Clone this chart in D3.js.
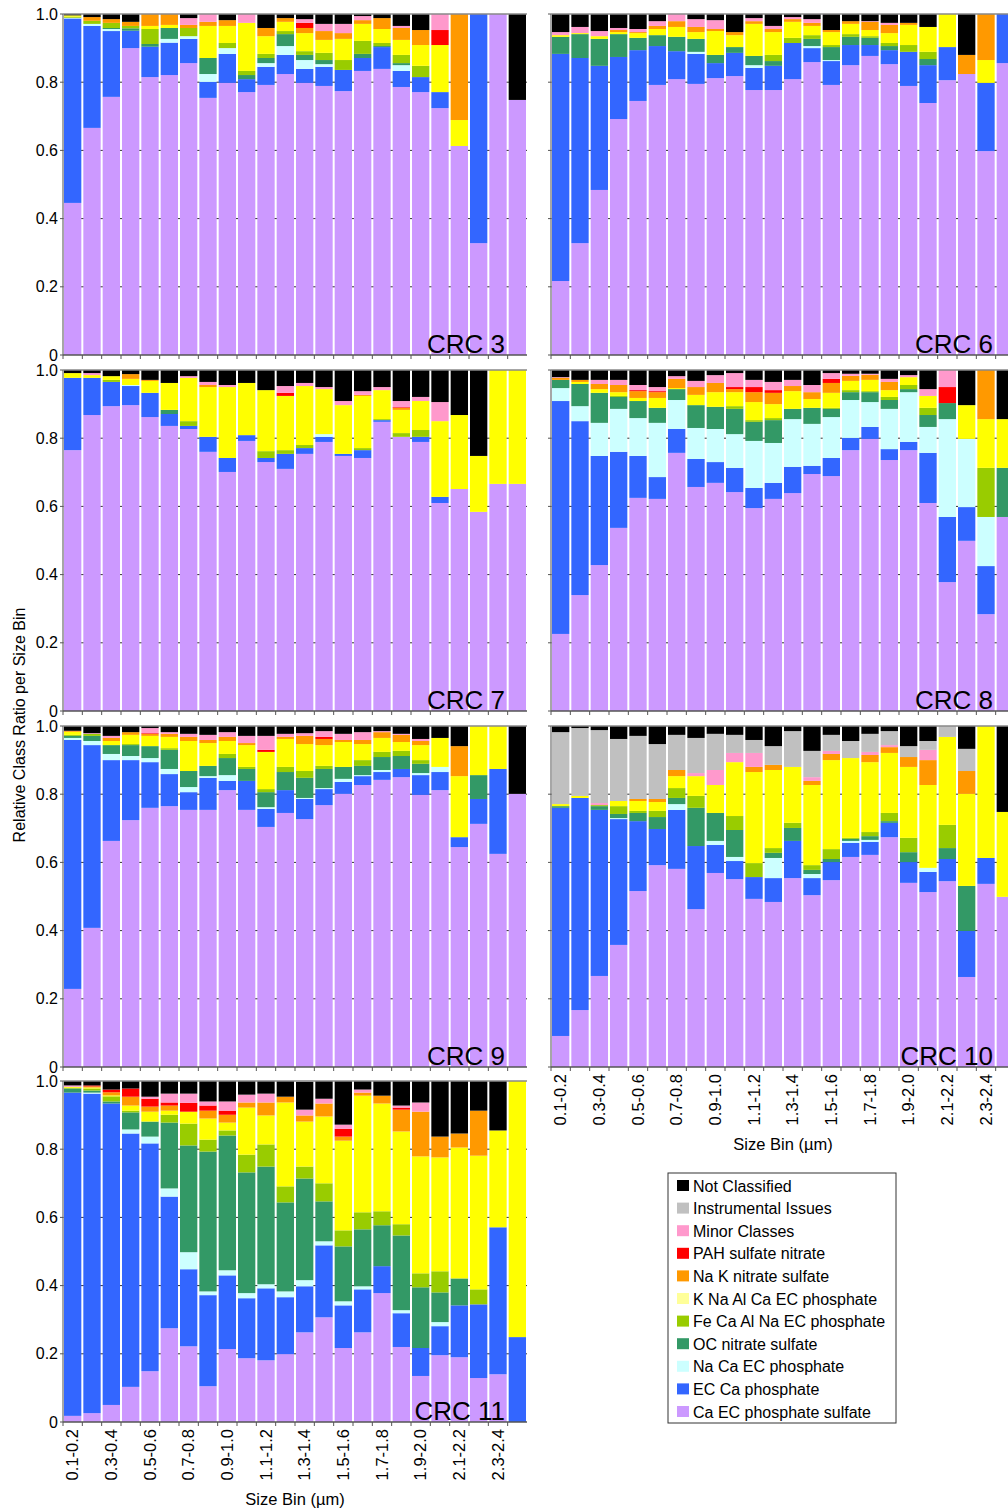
<!DOCTYPE html>
<meta charset="utf-8">
<style>
  body { margin: 0; background: #fff; }
  svg { display: block; }
</style>
<body>
<script src="https://d3js.org/d3.v7.min.js"></script>
<script>
// size bins (µm), one bar per bin
var sizeBins = ["0.1-0.2","0.2-0.3","0.3-0.4","0.4-0.5","0.5-0.6","0.6-0.7","0.7-0.8","0.8-0.9",
  "0.9-1.0","1.0-1.1","1.1-1.2","1.2-1.3","1.3-1.4","1.4-1.5","1.5-1.6","1.6-1.7",
  "1.7-1.8","1.8-1.9","1.9-2.0","2.0-2.1","2.1-2.2","2.2-2.3","2.3-2.4","2.4-2.5"];

// particle classes, stacked bottom -> top
var classNames = ["Ca EC phosphate sulfate","EC Ca phosphate","Na Ca EC phosphate","OC nitrate sulfate",
  "Fe Ca Al Na EC phosphate","K Na Al Ca EC phosphate","Na K nitrate sulfate","PAH sulfate nitrate",
  "Minor Classes","Instrumental Issues","Not Classified"];
var classColors = ["#cc99ff","#3366ff","#ccffff","#339966","#99cc00","#ffff00","#ff9900","#ff0000",
  "#ff99cc","#c0c0c0","#000000"];
var legendColors = ["#cc99ff","#3366ff","#ccffff","#339966","#99cc00","#ffff99","#ff9900","#ff0000",
  "#ff99cc","#c0c0c0","#000000"];

var yTicks = [0, 0.2, 0.4, 0.6, 0.8, 1.0];
var yTickLabels = ["0","0.2","0.4","0.6","0.8","1.0"];

// one row per size bin, values in classNames order
var crc3 = [
  [.446,.541,.002,0,.003,.004,0,0,0,0,.004],
  [.666,.299,.006,0,.009,0,.011,0,0,0,.009],
  [.757,.193,.006,.003,.015,0,.011,0,0,0,.015],
  [.900,.051,0,.007,.007,0,.012,0,0,0,.023],
  [.815,.089,0,.008,.044,.009,.035,0,0,0,0],
  [.821,.095,.011,.032,0,.009,.032,0,0,0,0],
  [.856,.071,.008,0,.024,0,.009,0,.020,0,.012],
  [.754,.047,.023,.047,0,.094,.012,0,.023,0,0],
  [.798,.085,.017,0,.015,.050,.017,0,0,0,.018],
  [.771,.038,0,.012,.012,.141,0,0,.026,0,0],
  [.792,.053,.011,.015,.012,.052,.024,0,0,0,.041],
  [.824,.056,.026,.035,.009,.027,.011,0,0,0,.012],
  [.798,.041,.026,.015,.011,.053,.015,.015,.011,0,.015],
  [.789,.056,.008,.012,.021,.038,.026,0,.021,0,.029],
  [.774,.062,0,0,.029,.062,.017,0,.027,0,.029],
  [.833,.038,0,.012,.038,.050,.011,0,.012,0,.006],
  [.839,.064,0,.003,.009,.041,.032,0,0,0,.012],
  [.786,.047,.017,.006,.024,.044,.035,0,.006,0,.035],
  [.771,.044,0,0,.033,.061,.044,0,0,0,.047],
  [.724,.047,0,0,0,.138,0,.044,.047,0,0],
  [.613,0,0,0,0,.076,.311,0,0,0,0],
  [.328,.672,0,0,0,0,0,0,0,0,0],
  [1,0,0,0,0,0,0,0,0,0,0],
  [.748,0,0,0,0,0,0,0,0,0,.252]
];
var crc6 = [
  [.217,.666,0,.050,0,.005,0,0,.009,0,.053],
  [.328,.543,0,.070,0,.003,0,0,.018,0,.038],
  [.484,.364,0,.079,0,.008,0,0,.015,0,.050],
  [.692,.182,0,.067,0,.006,.006,0,.006,0,.041],
  [.745,.149,0,.036,0,.014,.003,0,.009,0,.044],
  [.792,.114,0,.032,0,.018,.009,0,.014,0,.021],
  [.809,.082,0,.042,0,.029,.017,0,.021,0,0],
  [.795,.088,.006,.038,0,.020,.015,0,.023,0,.015],
  [.812,.044,0,.024,0,.070,.006,0,.026,0,.018],
  [.818,.068,0,.017,0,.035,.009,0,0,0,.053],
  [.777,.065,.008,.027,0,.094,.008,0,.009,0,.012],
  [.777,.071,0,.014,.018,.067,.009,0,.009,0,.035],
  [.809,.106,0,0,.015,.047,.008,0,.006,0,.009],
  [.859,.041,.006,.021,.011,.027,.009,0,.011,0,.015],
  [.792,.070,.003,.038,.006,.038,.006,0,0,0,.047],
  [.850,.059,0,.024,.008,.030,.008,0,0,0,.021],
  [.877,.032,0,.021,.005,.018,.024,0,.002,0,.021],
  [.853,.041,0,.012,.009,.029,.024,0,.006,0,.026],
  [.789,.100,0,0,.020,.059,.006,0,0,0,.026],
  [.739,.111,0,.018,.021,.073,0,0,0,0,.038],
  [.806,.097,0,0,0,.097,0,0,0,0,0],
  [.824,0,0,0,0,0,.056,0,0,0,.120],
  [.598,.200,0,0,0,.067,.135,0,0,0,0],
  [.856,.144,0,0,0,0,0,0,0,0,0]
];
var crc7 = [
  [.765,.212,0,0,0,.014,0,0,0,0,.009],
  [.868,.109,0,0,0,.008,0,0,.006,0,.009],
  [.894,.071,0,0,.006,.011,0,0,0,0,.018],
  [.897,.056,.003,0,0,.018,.014,0,0,0,.012],
  [.862,.071,0,0,0,.035,.003,0,0,0,.029],
  [.836,.035,0,.012,0,.079,0,0,0,0,.038],
  [.827,.009,0,0,.014,.127,0,0,.005,0,.018],
  [.760,.044,0,0,0,.146,.006,0,.009,0,.035],
  [.701,.041,0,0,0,.208,0,0,.006,0,.044],
  [.792,.017,0,0,0,.153,0,0,0,0,.038],
  [.730,.012,0,0,.020,.179,0,0,0,0,.059],
  [.710,.044,0,0,.011,.159,0,.009,.020,0,.047],
  [.754,.017,0,0,.009,.173,0,0,.009,0,.038],
  [.789,.015,.008,0,0,.132,0,0,.006,0,.050],
  [.748,.006,0,0,0,.143,0,0,.012,0,.091],
  [.742,.023,0,0,.006,.153,.003,0,.011,0,.062],
  [.848,.005,0,0,.003,.085,0,0,.009,0,.050],
  [.804,0,0,0,.011,.068,.006,.002,.018,0,.091],
  [.789,.015,0,0,.020,.085,0,0,.012,0,.079],
  [.610,.018,0,0,0,.222,0,0,.056,0,.094],
  [.651,0,0,0,0,.217,0,0,0,0,.132],
  [.584,0,0,0,0,.164,0,0,0,0,.252],
  [.666,0,0,0,0,.334,0,0,0,0,0],
  [.666,0,0,0,0,.334,0,0,0,0,0]
];
var crc8 = [
  [.226,.683,.038,.024,0,0,.006,0,.002,0,.021],
  [.340,.510,.044,.065,0,.006,.006,0,0,0,.029],
  [.428,.320,.097,.088,0,.011,.015,0,.012,0,.029],
  [.537,.223,.126,.035,.003,.011,.021,0,.015,0,.029],
  [.625,.123,.111,.050,0,.009,.020,.003,.015,0,.044],
  [.622,.064,.159,.044,0,.029,.017,.003,.012,0,.050],
  [.757,.070,.085,.032,0,.003,.027,0,.008,0,.018],
  [.657,.082,.091,.067,0,.030,.023,0,.018,0,.032],
  [.669,.061,.097,.065,0,.043,.027,0,.023,0,.015],
  [.642,.071,.099,.074,.008,.041,.009,.006,.041,0,.009],
  [.595,.059,.138,.056,.005,.053,.029,.015,.021,0,.029],
  [.622,.047,.117,.067,.006,.041,.033,.008,.024,0,.035],
  [.639,.077,.140,.030,0,.052,.015,0,.018,0,.029],
  [.695,.024,.123,.047,0,.026,.020,0,.021,0,.044],
  [.689,.053,.120,.024,.003,.044,.029,.012,.017,0,.009],
  [.765,.036,.111,.023,.006,.027,.015,0,.006,0,.012],
  [.798,.035,.073,.029,.003,.033,.015,0,.003,0,.012],
  [.736,.032,.118,.026,.009,.020,.024,0,.009,0,.026],
  [.765,.024,.146,.009,.012,.023,0,0,.006,0,.015],
  [.610,.147,.076,.035,.021,.035,0,0,.020,0,.056],
  [.378,.191,.287,.047,0,0,0,.047,.050,0,0],
  [.499,.099,.200,0,0,.099,0,0,0,0,.103],
  [.284,.141,.144,0,.144,.143,.144,0,0,0,0],
  [.569,0,0,.144,0,.143,0,0,0,0,.144]
];
var crc9 = [
  [.229,.730,.006,.006,.003,.009,.003,0,0,0,.014],
  [.408,.536,.012,.015,.006,0,0,0,.002,0,.021],
  [.663,.237,.018,.026,0,.012,.009,0,.006,0,.029],
  [.724,.176,.012,.032,.003,.027,.008,0,0,0,.018],
  [.760,.134,.012,.035,0,.030,.006,.002,.015,0,.006],
  [.765,.094,.015,.056,.005,.033,.009,0,.005,0,.018],
  [.754,.052,.015,.047,0,.088,.012,0,.009,0,.023],
  [.754,.094,.005,.030,0,.067,.009,0,.015,0,.026],
  [.812,.027,.017,.050,.012,.038,.012,0,.014,0,.018],
  [.754,.085,0,.035,.006,.064,.006,0,.021,0,.029],
  [.704,.053,.005,.044,.009,.109,0,.006,.041,0,.029],
  [.745,.067,0,.053,.015,.082,.006,0,.009,0,.023],
  [.727,.059,.003,.059,.020,.079,.024,0,.008,0,.021],
  [.768,.047,.003,.056,.009,.061,.018,.006,.017,0,.015],
  [.801,.035,.009,.035,0,.073,.006,0,.018,0,.023],
  [.827,.026,.003,.027,.017,.047,.012,0,.023,0,.018],
  [.842,.023,.006,.038,.015,.041,.017,0,.003,0,.015],
  [.850,.024,0,.038,.015,.026,.021,0,.003,0,.023],
  [.798,.058,.006,.027,.011,.044,.012,0,.006,0,.038],
  [.812,.053,.015,0,0,.085,0,0,0,0,.035],
  [.645,.029,0,0,0,.179,.088,0,0,0,.059],
  [.713,.073,0,.070,0,.144,0,0,0,0,0],
  [.625,.249,0,0,0,.126,0,0,0,0,0],
  [.801,0,0,0,0,0,0,0,0,0,.199]
];
var crc10 = [
  [.091,.669,0,.005,0,.006,0,0,0,.211,.018],
  [.167,.622,0,0,0,.006,0,0,0,.199,.006],
  [.267,.487,0,.011,.003,0,0,0,.006,.214,.012],
  [.358,.369,.003,.012,.023,.015,0,0,0,.182,.038],
  [.516,.205,0,.024,.006,.029,.006,0,0,.185,.029],
  [.592,.106,0,.035,.018,.026,.009,0,0,.161,.053],
  [.581,.173,.017,.018,.029,.035,.018,0,0,.103,.026],
  [.463,.185,0,.112,.035,.058,0,0,.009,.103,.035],
  [.569,.082,.012,.082,0,.082,0,0,.044,.106,.023],
  [.551,.053,.012,.079,.041,.158,0,0,.027,.053,.026],
  [.493,.064,0,0,.041,.267,.015,0,.041,.038,.041],
  [.484,.070,.059,.015,.014,.229,.015,0,0,.055,.059],
  [.554,.109,0,.038,.015,.164,0,0,0,.105,.015],
  [.504,.050,.012,.012,.014,.235,.012,0,.011,.077,.073],
  [.548,.053,0,.009,.029,.261,.018,0,.009,.047,.026],
  [.616,.041,.006,.006,.003,.234,0,0,0,.050,.044],
  [.622,.038,.006,.011,.012,.205,.021,0,.009,.053,.023],
  [.674,.042,0,.005,.024,.176,.017,0,.006,.041,.015],
  [.540,.061,0,.029,.042,.208,.029,0,0,.032,.059],
  [.513,.059,.012,0,0,.243,.073,0,.030,.026,.044],
  [.545,.065,0,.032,.068,.258,0,0,0,.032,0],
  [.264,.135,0,.132,0,.270,.067,0,0,.065,.067],
  [.537,.076,0,0,0,.387,0,0,0,0,0],
  [.499,0,0,0,0,.249,0,0,0,0,.252]
];
var crc11 = [
  [.018,.948,0,.012,.002,.003,0,0,.004,0,.013],
  [.026,.937,.003,.006,.006,.003,.003,.003,0,0,.013],
  [.050,.884,0,.006,.015,.003,.009,.008,0,0,.025],
  [.103,.743,.012,.050,.005,.015,.026,.024,0,0,.022],
  [.149,.668,.020,.044,0,.029,.015,.023,.006,0,.046],
  [.275,.386,.024,.193,.023,.012,.015,.009,.026,0,.037],
  [.222,.226,.050,.313,.064,.035,0,.026,.027,0,.037],
  [.105,.267,.011,.410,.035,.062,.023,.015,.012,0,.060],
  [.214,.216,.015,.395,.015,.023,.023,.012,.027,0,.060],
  [.187,.176,.015,.354,.052,.138,.015,0,.023,0,.040],
  [.181,.211,.012,.345,.065,.085,.038,0,.026,0,.037],
  [.199,.167,.017,.261,.047,.246,.017,0,0,0,.046],
  [.263,.135,.018,.298,.035,.132,.018,0,.017,0,.082],
  [.307,.211,.012,.117,.053,.196,.038,0,.014,0,.052],
  [.217,.125,.012,.161,.047,.263,.012,.023,.012,0,.128],
  [.263,.126,.009,.167,.050,.342,.009,0,.009,0,.025],
  [.378,.079,0,.120,.041,.316,.023,0,0,0,.043],
  [.220,.099,.009,.219,.033,.272,.064,.006,.006,0,.072],
  [.135,.082,0,.178,.041,.343,.131,0,.027,0,.063],
  [.196,.085,.012,.087,.062,.334,.061,0,0,0,.163],
  [.190,.152,0,.079,0,.384,.041,0,0,0,.154],
  [.129,.216,0,0,.044,.392,.132,0,0,0,.087],
  [.140,.431,0,0,0,.284,0,0,0,0,.145],
  [0,.249,0,0,0,.751,0,0,0,0,0]
];

// panel grid: column, row, and whether it carries the x labels
var panels = [
  {name: "CRC 3",  data: crc3,  col: 0, row: 0},
  {name: "CRC 6",  data: crc6,  col: 1, row: 0},
  {name: "CRC 7",  data: crc7,  col: 0, row: 1},
  {name: "CRC 8",  data: crc8,  col: 1, row: 1},
  {name: "CRC 9",  data: crc9,  col: 0, row: 2},
  {name: "CRC 10", data: crc10, col: 1, row: 2, xLabels: true},
  {name: "CRC 11", data: crc11, col: 0, row: 3, xLabels: true}
];

var W = 1008, H = 1512;
var pw = 464, ph = 341;
var colX = [63, 551], rowY = [14, 370, 726, 1081];

var svg = d3.select("body").append("svg")
    .attr("width", W)
    .attr("height", H)
    .style("font-family", "'Liberation Sans', Arial, sans-serif");

var x = d3.scaleBand().domain(sizeBins).range([0, pw]);
var y = d3.scaleLinear().domain([0, 1]).range([ph, 0]).clamp(true);
var stack = d3.stack().keys(d3.range(classNames.length)).value(function(d, k) { return d[k]; });

panels.forEach(function(p) {
  var g = svg.append("g")
      .attr("transform", "translate(" + colX[p.col] + "," + rowY[p.row] + ")");

  // gridlines sit behind the bars, they only show in the gaps
  g.selectAll(".grid")
    .data([0.2, 0.4, 0.6, 0.8])
    .enter().append("line")
      .attr("x1", 0).attr("x2", pw)
      .attr("y1", function(d) { return y(d); })
      .attr("y2", function(d) { return y(d); })
      .attr("stroke", "#333")
      .attr("stroke-width", 1);

  // stacked bars
  g.selectAll(".layer")
    .data(stack(p.data))
    .enter().append("g")
      .attr("fill", function(d, i) { return classColors[i]; })
    .selectAll("rect")
    .data(function(d) { return d; })
    .enter().append("rect")
      .attr("x", function(d, i) { return x(sizeBins[i]) + 1; })
      .attr("width", x.bandwidth() - 2)
      .attr("y", function(d) { return y(d[1]); })
      .attr("height", function(d) { return Math.max(0, y(d[0]) - y(d[1])); });

  // frame: top line, left axis, bottom axis
  g.append("line").attr("x1", 0).attr("x2", pw).attr("y1", y(1)).attr("y2", y(1))
    .attr("stroke", "#888").attr("stroke-width", 1.5);
  g.append("line").attr("x1", 0).attr("x2", 0).attr("y1", 0).attr("y2", ph)
    .attr("stroke", "#888").attr("stroke-width", 1.5);
  g.append("line").attr("x1", 0).attr("x2", pw).attr("y1", ph).attr("y2", ph)
    .attr("stroke", "#555").attr("stroke-width", 1.5);

  // bottom ticks at bin boundaries
  g.selectAll(".xt")
    .data(sizeBins)
    .enter().append("line")
      .attr("x1", function(d) { return x(d); })
      .attr("x2", function(d) { return x(d); })
      .attr("y1", ph).attr("y2", ph + 4)
      .attr("stroke", "#555");

  // left ticks
  g.selectAll(".yt")
    .data(yTicks)
    .enter().append("line")
      .attr("x1", -3).attr("x2", 0)
      .attr("y1", function(d) { return y(d); })
      .attr("y2", function(d) { return y(d); })
      .attr("stroke", "#555");

  if (p.col === 0) {
    g.selectAll(".yl")
      .data(yTicks)
      .enter().append("text")
        .attr("x", -5)
        .attr("y", function(d) { return y(d); })
        .attr("dy", "0.35em")
        .attr("text-anchor", "end")
        .style("font-size", "16px")
        .text(function(d, i) { return yTickLabels[i]; });
  }

  // panel name
  g.append("text")
    .attr("x", 442)
    .attr("y", ph - 2)
    .attr("text-anchor", "end")
    .style("font-size", "26px")
    .text(p.name);

  if (p.xLabels) {
    g.selectAll(".xl")
      .data(sizeBins.filter(function(d, i) { return i % 2 === 0; }))
      .enter().append("text")
        .attr("transform", function(d) {
          return "translate(" + (x(d) + x.bandwidth() / 2) + "," + (ph + 7) + ") rotate(-90)";
        })
        .attr("dy", "0.35em")
        .attr("text-anchor", "end")
        .style("font-size", "16.5px")
        .text(function(d) { return d; });

    g.append("text")
      .attr("x", pw / 2)
      .attr("y", ph + 83)
      .attr("text-anchor", "middle")
      .style("font-size", "16.5px")
      .text("Size Bin (\u00b5m)");
  }
});

// shared y axis title
svg.append("text")
  .attr("transform", "translate(25,725) rotate(-90)")
  .attr("text-anchor", "middle")
  .style("font-size", "16px")
  .text("Relative Class Ratio per Size Bin");

// legend, top entry is the top of the stack
var legend = svg.append("g").attr("transform", "translate(668,1173)");
legend.append("rect")
  .attr("width", 228).attr("height", 250)
  .attr("fill", "#fff").attr("stroke", "#333").attr("stroke-width", 1);

var legendOrder = d3.range(classNames.length).reverse();
var items = legend.selectAll(".item")
  .data(legendOrder)
  .enter().append("g")
    .attr("transform", function(d, i) { return "translate(9," + (7 + i * 22.6) + ")"; });
items.append("rect")
  .attr("width", 12).attr("height", 11)
  .attr("fill", function(d) { return legendColors[d]; });
items.append("text")
  .attr("x", 16)
  .attr("y", 6)
  .attr("dy", "0.35em")
  .style("font-size", "16px")
  .text(function(d) { return classNames[d]; });
</script>
</body>
